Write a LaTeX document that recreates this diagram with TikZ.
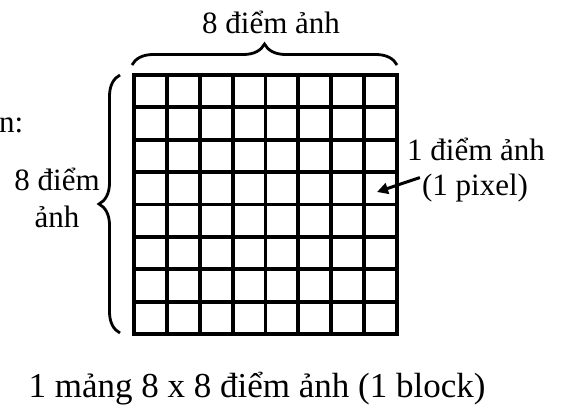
\documentclass[tikz,border=0pt]{standalone}
\usepackage{fontspec}
\setmainfont{Liberation Serif}
\usetikzlibrary{decorations.pathreplacing,arrows.meta}
\begin{document}
\begin{tikzpicture}[x=1pt,y=-1pt,
  lbl/.style={font=\fontsize{31}{34}\selectfont, inner sep=0pt, anchor=base},
  gridline/.style={line width=3.8pt, line cap=rect},
  bracestyle/.style={line width=2.8pt, decorate, decoration={brace, amplitude=21pt}}]
\useasboundingbox (0,0) rectangle (561,407);
% grid
\node[draw=none, inner sep=0pt, minimum width=263pt, minimum height=259pt] (grid) at (265.5,204.5) {};
\foreach \i in {0,...,8} {
  \draw[gridline] ({134+\i*263/8},75) -- ({134+\i*263/8},334);
  \draw[gridline] (134,{75+\i*259/8}) -- (397,{75+\i*259/8});
}
% braces
\coordinate (tb1) at (132,65);
\coordinate (tb2) at (397,65);
\draw[bracestyle] (tb1) -- (tb2);
\coordinate (lb1) at (120,333);
\coordinate (lb2) at (120,75);
\draw[bracestyle] (lb1) -- (lb2);
% labels
\node[lbl] (top) at (271,33) {8 điểm ảnh};
\node[lbl] (left1) at (57,190) {8 điểm};
\node[lbl] (left2) at (57,227) {ảnh};
\node[lbl] (right1) at (476,160) {1 điểm ảnh};
\node[lbl] (right2) at (475,195) {(1 pixel)};
\node[lbl, anchor=base west] (cut) at (-1,132) {n:};
\node[lbl, font=\fontsize{35}{38}\selectfont] (bottom) at (257,397) {1 mảng 8 x 8 điểm ảnh (1 block)};
% arrow
\coordinate (atip) at (377,192);
\draw[line width=3pt, -{Triangle[length=11pt,width=11pt]}] (right2.west) ++(-2,-10) coordinate (astart) -- (atip);
\end{tikzpicture}
\end{document}
